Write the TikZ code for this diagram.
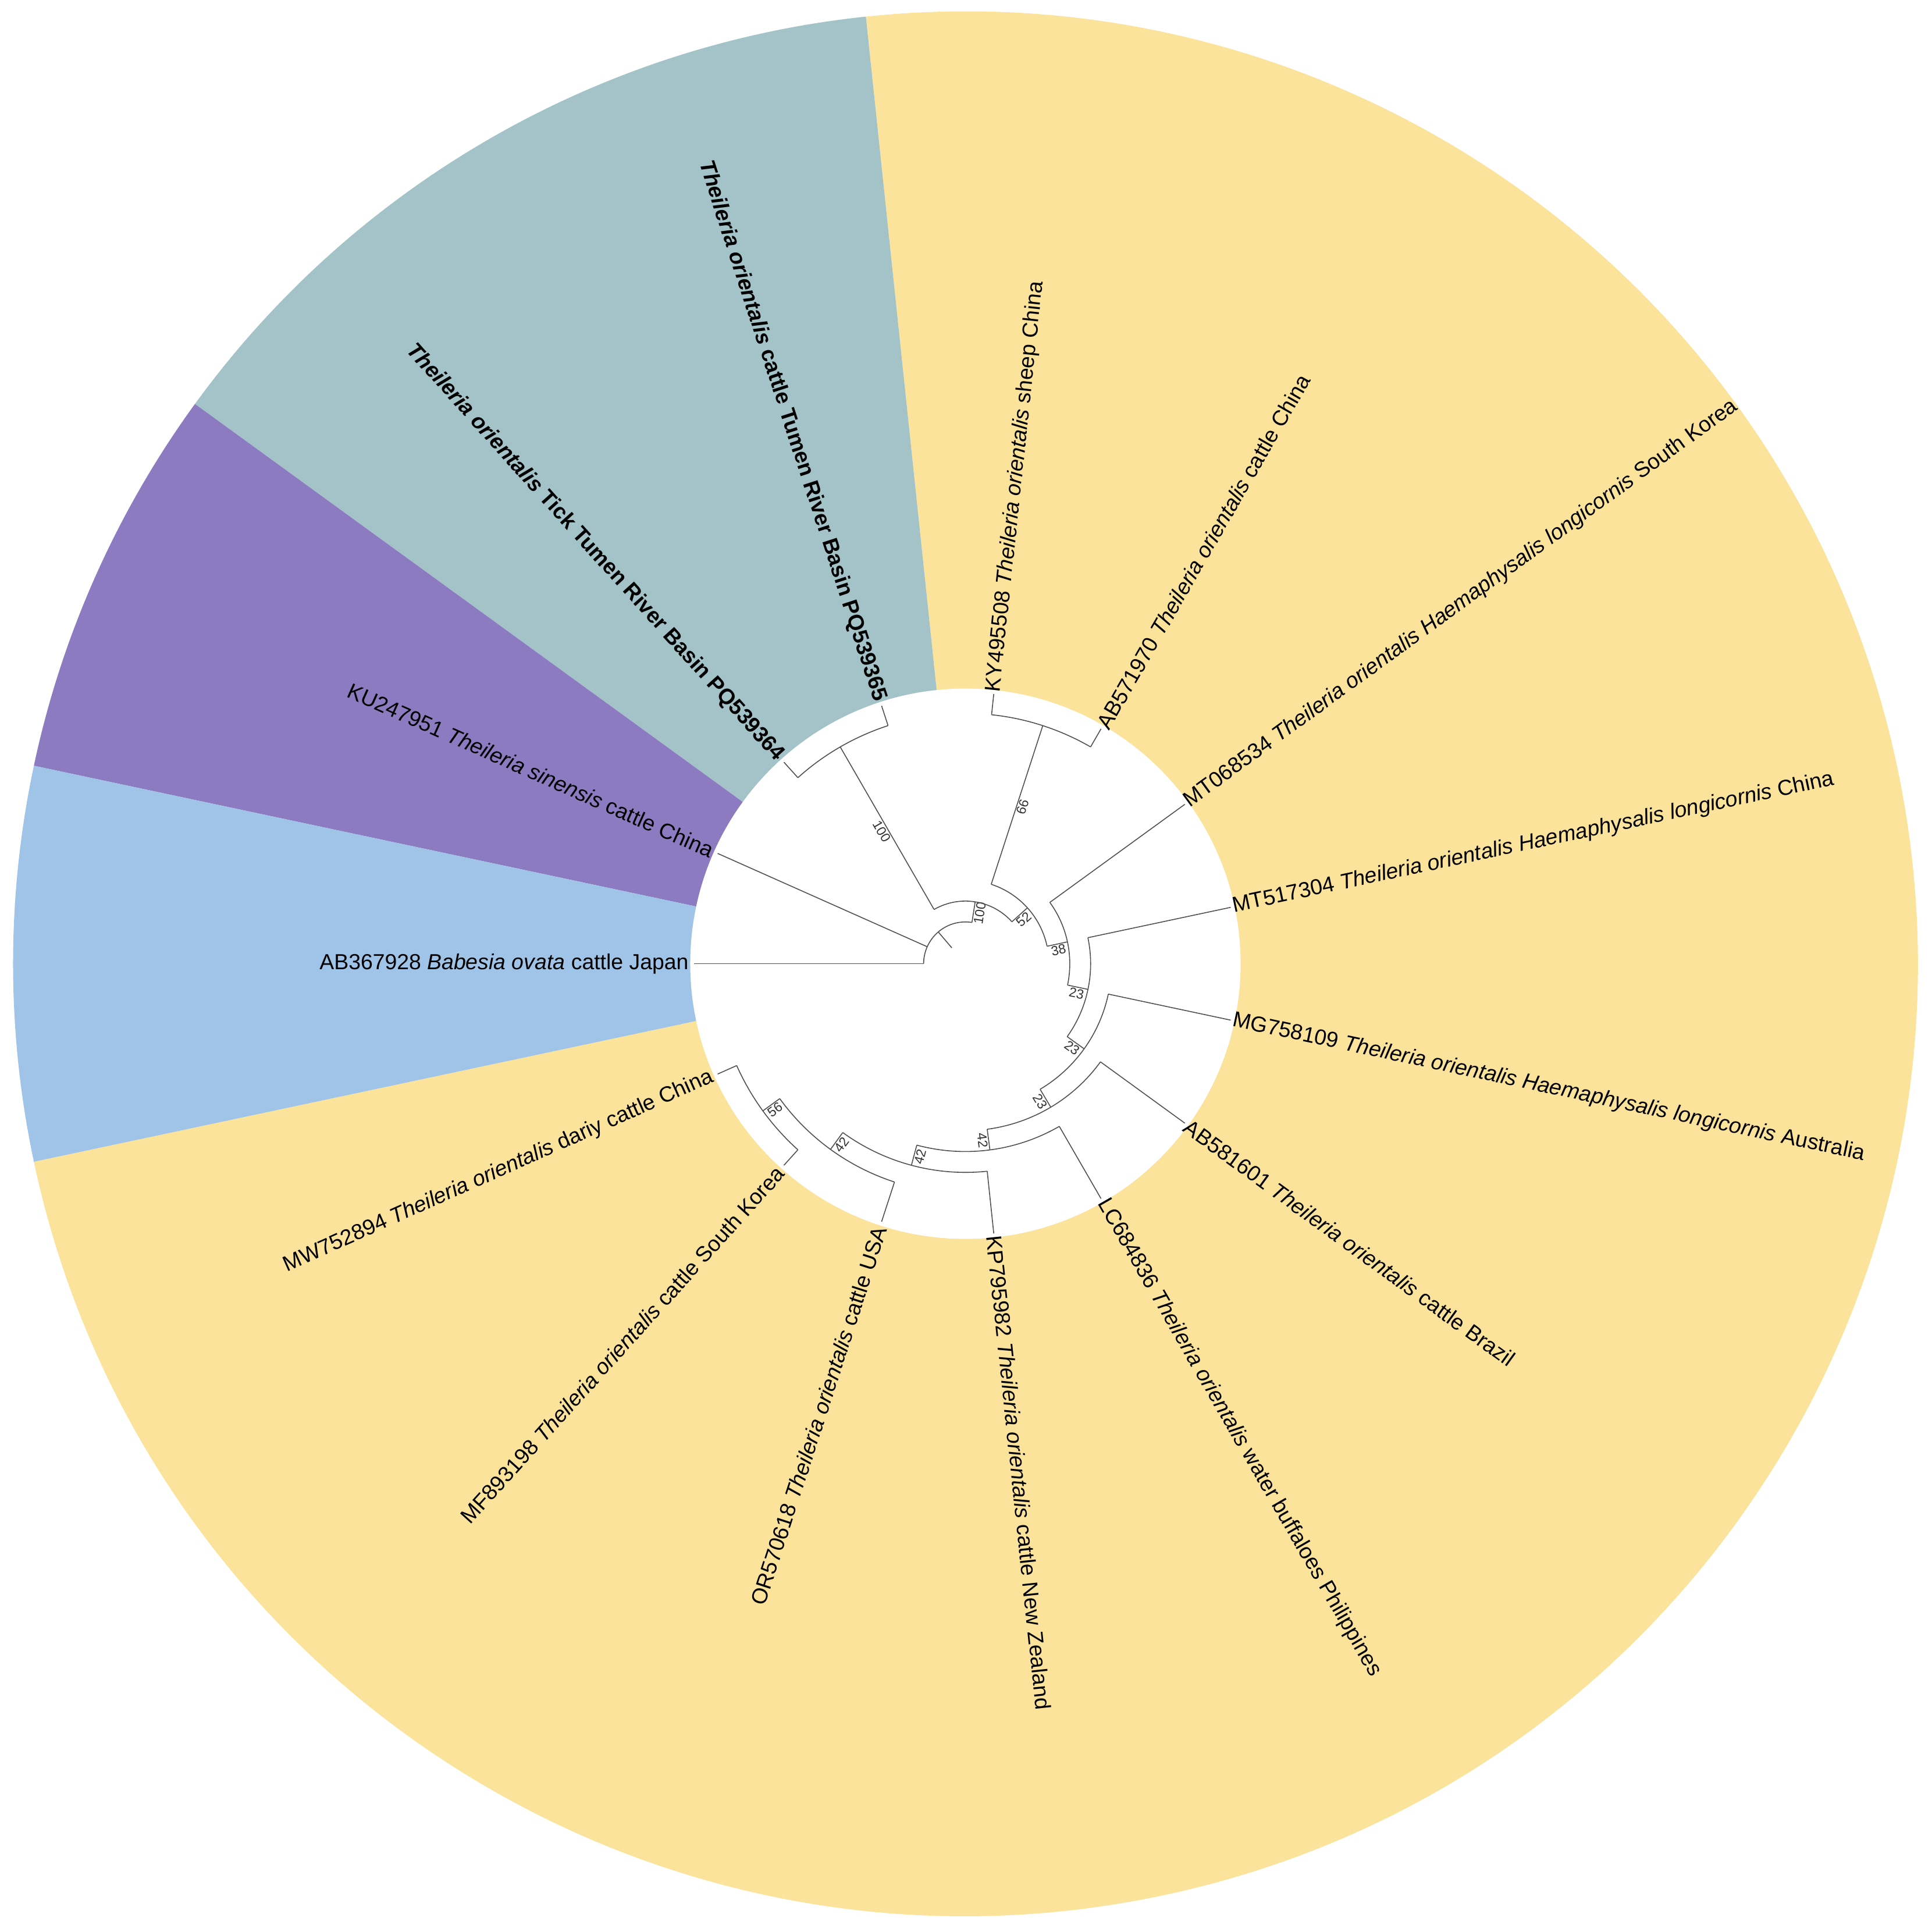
\documentclass[tikz,border=0pt]{standalone}
\usepackage{fontspec}
\setmainfont{Liberation Sans}
\definecolor{cyel}{HTML}{FCE39B}
\definecolor{cteal}{HTML}{A3C3C8}
\definecolor{cpurp}{HTML}{8C7BC0}
\definecolor{cblue}{HTML}{9FC4E8}
\definecolor{treegray}{HTML}{4F4F4F}
\begin{document}
\begin{tikzpicture}[
  branch/.style={draw=treegray, line width=0.45pt},
  lab/.style={font=\fontsize{10.64}{12.8}\selectfont, inner sep=0pt, outer sep=0pt, text=black},
  labR/.style={lab, anchor=west},
  labL/.style={lab, anchor=east},
  bs/.style={font=\fontsize{6.5}{7.8}\selectfont, text=black!80, inner sep=0.5pt, anchor=north},
]
\useasboundingbox (-16.595,-16.644) rectangle (16.615,16.566);
% coloured sectors
\fill[cyel] (0,0) -- (-168:16.37) arc[start angle=-168, end angle=96, radius=16.37] -- cycle;
\fill[cteal] (0,0) -- (96:16.37) arc[start angle=96, end angle=144, radius=16.37] -- cycle;
\fill[cpurp] (0,0) -- (144:16.37) arc[start angle=144, end angle=168, radius=16.37] -- cycle;
\fill[cblue] (0,0) -- (168:16.37) arc[start angle=168, end angle=192, radius=16.37] -- cycle;
\fill[white] (0,0) circle[radius=4.73];
% radii
\def\rrZ{0.36}\def\rrN{0.7185}\def\rrA{1.077}\def\rrB{1.4355}\def\rrC{1.794}
\def\rrD{2.1525}\def\rrE{2.511}\def\rrF{2.8695}\def\rrG{3.228}\def\rrH{3.5865}
\def\rrI{3.945}\def\rrJ{4.3035}\def\rrT{4.662}\def\rrLR{4.70}\def\rrLL{4.76}
% angles
\def\aN{130.51}\def\aA{81.0234}\def\aP{120}\def\aB{42.0469}\def\aK{72}
\def\aC{12.0938}\def\aD{-11.8125}\def\aE{-35.625}\def\aF{-59.25}\def\aG{-82.5}
\def\aH{-105}\def\aI{-126}\def\aJ{-144}
% internal node coordinates
\coordinate (N0) at (\aN:\rrZ); \coordinate (N) at (\aN:\rrN);
\coordinate (Ab) at (\aA:\rrN); \coordinate (A) at (\aA:\rrA);
\coordinate (Pb) at (\aP:\rrA); \coordinate (P) at (\aP:\rrJ);
\coordinate (Bb) at (\aB:\rrA); \coordinate (B) at (\aB:\rrB);
\coordinate (Kb) at (\aK:\rrB); \coordinate (K) at (\aK:\rrJ);
\coordinate (Cb) at (\aC:\rrB); \coordinate (C) at (\aC:\rrC);
\coordinate (Db) at (\aD:\rrC); \coordinate (D) at (\aD:\rrD);
\coordinate (Eb) at (\aE:\rrD); \coordinate (E) at (\aE:\rrE);
\coordinate (Fb) at (\aF:\rrE); \coordinate (F) at (\aF:\rrF);
\coordinate (Gb) at (\aG:\rrF); \coordinate (G) at (\aG:\rrG);
\coordinate (Hb) at (\aH:\rrG); \coordinate (H) at (\aH:\rrH);
\coordinate (Ib) at (\aI:\rrH); \coordinate (I) at (\aI:\rrI);
\coordinate (Jb) at (\aJ:\rrI); \coordinate (J) at (\aJ:\rrJ);
% leaf coordinates
\coordinate (L1b) at (180:\rrN);  \coordinate (L1) at (180:\rrT);
\coordinate (L2b) at (156:\rrN);  \coordinate (L2) at (156:\rrT);
\coordinate (L3b) at (132:\rrJ);  \coordinate (L3) at (132:\rrT);
\coordinate (L4b) at (108:\rrJ);  \coordinate (L4) at (108:\rrT);
\coordinate (L5b) at (84:\rrJ);   \coordinate (L5) at (84:\rrT);
\coordinate (L6b) at (60:\rrJ);   \coordinate (L6) at (60:\rrT);
\coordinate (L7b) at (36:\rrC);   \coordinate (L7) at (36:\rrT);
\coordinate (L8b) at (12:\rrD);   \coordinate (L8) at (12:\rrT);
\coordinate (L9b) at (-12:\rrE);  \coordinate (L9) at (-12:\rrT);
\coordinate (L10b) at (-36:\rrF); \coordinate (L10) at (-36:\rrT);
\coordinate (L11b) at (-60:\rrG); \coordinate (L11) at (-60:\rrT);
\coordinate (L12b) at (-84:\rrH); \coordinate (L12) at (-84:\rrT);
\coordinate (L13b) at (-108:\rrI);\coordinate (L13) at (-108:\rrT);
\coordinate (L14b) at (-132:\rrJ);\coordinate (L14) at (-132:\rrT);
\coordinate (L15b) at (-156:\rrJ);\coordinate (L15) at (-156:\rrT);
% radial branches of internal nodes, with support values
\draw[branch] (N0) -- (N);
\draw[branch] (Ab) -- node[bs, rotate=81.02] {100} (A);
\draw[branch] (Pb) -- node[bs, rotate=-60] {100} (P);
\draw[branch] (Bb) -- node[bs, rotate=42.05] {52} (B);
\draw[branch] (Kb) -- node[bs, rotate=72] {66} (K);
\draw[branch] (Cb) -- node[bs, rotate=12.09] {38} (C);
\draw[branch] (Db) -- node[bs, rotate=-11.81] {23} (D);
\draw[branch] (Eb) -- node[bs, rotate=-35.63] {23} (E);
\draw[branch] (Fb) -- node[bs, rotate=-59.25] {23} (F);
\draw[branch] (Gb) -- node[bs, rotate=-82.5] {42} (G);
\draw[branch] (Hb) -- node[bs, rotate=75] {42} (H);
\draw[branch] (Ib) -- node[bs, rotate=54] {42} (I);
\draw[branch] (Jb) -- node[bs, rotate=36] {56} (J);
% arcs joining children
\draw[branch] (L1b) arc[start angle=180, end angle=\aA, radius=\rrN];
\draw[branch] (Pb) arc[start angle=120, end angle=\aB, radius=\rrA];
\draw[branch] (L3b) arc[start angle=132, end angle=108, radius=\rrJ];
\draw[branch] (Kb) arc[start angle=72, end angle=\aC, radius=\rrB];
\draw[branch] (L5b) arc[start angle=84, end angle=60, radius=\rrJ];
\draw[branch] (L7b) arc[start angle=36, end angle=\aD, radius=\rrC];
\draw[branch] (L8b) arc[start angle=12, end angle=\aE, radius=\rrD];
\draw[branch] (L9b) arc[start angle=-12, end angle=\aF, radius=\rrE];
\draw[branch] (L10b) arc[start angle=-36, end angle=\aG, radius=\rrF];
\draw[branch] (L11b) arc[start angle=-60, end angle=\aH, radius=\rrG];
\draw[branch] (L12b) arc[start angle=-84, end angle=\aI, radius=\rrH];
\draw[branch] (L13b) arc[start angle=-108, end angle=\aJ, radius=\rrI];
\draw[branch] (L14b) arc[start angle=-132, end angle=-156, radius=\rrJ];
% leaf branches
\foreach \k in {1,...,15} { \draw[branch] (L\k b) -- (L\k); }
% leaf labels
\node[labL, rotate=0] (T1) at (180:\rrLL) {AB367928 \textit{Babesia ovata} cattle Japan};
\node[labL, rotate=-24] (T2) at (156:\rrLL) {KU247951 \textit{Theileria sinensis} cattle China};
\node[labL, rotate=-48] (T3) at (132:\rrLL) {\bfseries\textit{Theileria orientalis} Tick Tumen River Basin PQ539364};
\node[labL, rotate=-72] (T4) at (108:\rrLL) {\bfseries\textit{Theileria orientalis} cattle Tumen River Basin PQ539365};
\node[labR, rotate=84] (T5) at (84:\rrLR) {KY495508 \textit{Theileria orientalis} sheep China};
\node[labR, rotate=60] (T6) at (60:\rrLR) {AB571970 \textit{Theileria orientalis} cattle China};
\node[labR, rotate=36] (T7) at (36:\rrLR) {MT068534 \textit{Theileria orientalis Haemaphysalis longicornis} South Korea};
\node[labR, rotate=12] (T8) at (12:\rrLR) {MT517304 \textit{Theileria orientalis Haemaphysalis longicornis} China};
\node[labR, rotate=-12] (T9) at (-12:\rrLR) {MG758109 \textit{Theileria orientalis Haemaphysalis longicornis} Australia};
\node[labR, rotate=-36] (T10) at (-36:\rrLR) {AB581601 \textit{Theileria orientalis} cattle Brazil};
\node[labR, rotate=-60] (T11) at (-60:\rrLR) {LC684836 \textit{Theileria orientalis} water buffaloes Philippines};
\node[labR, rotate=-84] (T12) at (-84:\rrLR) {KP795982 \textit{Theileria orientalis} cattle New Zealand};
\node[labL, rotate=72] (T13) at (-108:\rrLL) {OR570618 \textit{Theileria orientalis} cattle USA};
\node[labL, rotate=48] (T14) at (-132:\rrLL) {MF893198 \textit{Theileria orientalis} cattle South Korea};
\node[labL, rotate=24] (T15) at (-156:\rrLL) {MW752894 \textit{Theileria orientalis} dariy cattle China};
\end{tikzpicture}
\end{document}
